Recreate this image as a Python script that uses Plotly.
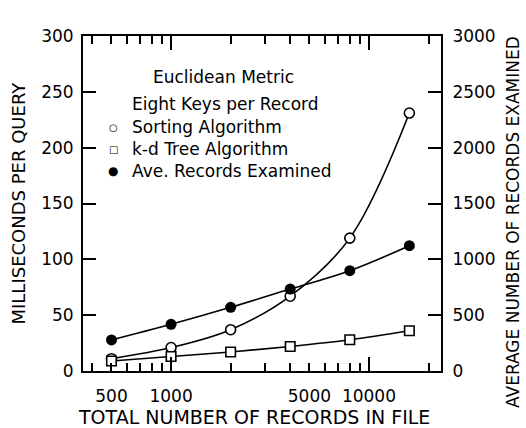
import plotly.graph_objects as go

# ---- data ----
records_in_file = [500, 1000, 2000, 4000, 8000, 16000]
sorting_ms = [11, 21, 37, 67, 119, 231]
kd_tree_ms = [9, 13, 17, 22, 28, 36]
ave_records = [278, 418, 570, 734, 898, 1122]

x_tick_vals = [500, 1000, 5000, 10000]
x_tick_text = ["500", "1000", "5000", "10000"]
x_short_ticks = [400, 500, 600, 700, 800, 900, 2000, 3000, 4000, 5000,
                 6000, 7000, 8000, 9000, 20000]
x_long_ticks = [1000, 10000]
y_left_ticks = [0, 50, 100, 150, 200, 250, 300]
y_right_ticks = [0, 500, 1000, 1500, 2000, 2500, 3000]

FONT = "DejaVu Sans"
W, H = 526, 428
ML, MR, MT, MB = 83, 85, 36, 57
PW, PH = W - ML - MR, H - MT - MB


def px(xp):
    return (xp - ML) / PW


def py(yp):
    return (H - MB - yp) / PH


fig = go.Figure()
line = dict(color="black", width=1.6, shape="spline")
fig.add_trace(go.Scatter(x=records_in_file, y=sorting_ms, mode="lines+markers",
                         line=line,
                         marker=dict(symbol="circle", size=10, color="white",
                                     line=dict(color="black", width=1.6)),
                         showlegend=False))
fig.add_trace(go.Scatter(x=records_in_file, y=kd_tree_ms, mode="lines+markers",
                         line=line,
                         marker=dict(symbol="square", size=9.5, color="white",
                                     line=dict(color="black", width=1.6)),
                         showlegend=False))
fig.add_trace(go.Scatter(x=records_in_file, y=ave_records, mode="lines+markers",
                         line=line, yaxis="y2",
                         marker=dict(symbol="circle", size=11, color="black"),
                         showlegend=False))
# empty helper traces so the tick-only overlay axes get drawn
for ax in ["x2", "x3", "x4", "x5"]:
    fig.add_trace(go.Scatter(x=[None], y=[None], xaxis=ax, yaxis="y",
                             mode="markers", showlegend=False,
                             hoverinfo="skip"))

xr = [2.555, 4.364]
common_x = dict(type="log", range=xr, showgrid=False, zeroline=False)
tick_x = dict(common_x, overlaying="x", anchor="y", showticklabels=False,
              showline=False, ticks="inside", tickwidth=1.5, tickcolor="black",
              tickmode="array")

fig.update_layout(
    width=W, height=H,
    margin=dict(l=ML, r=MR, t=MT, b=MB),
    paper_bgcolor="white", plot_bgcolor="white",
    font=dict(family=FONT, color="black", size=17),
    xaxis=dict(common_x, tickmode="array", tickvals=x_tick_vals,
               ticktext=x_tick_text, ticks="", showline=True, linewidth=2,
               linecolor="black", mirror=True, tickfont=dict(size=17),
               ticklabelstandoff=9),
    xaxis2=dict(tick_x, side="bottom", tickvals=x_short_ticks, ticklen=8),
    xaxis3=dict(tick_x, side="bottom", tickvals=x_long_ticks, ticklen=14),
    xaxis4=dict(tick_x, side="top", tickvals=x_short_ticks, ticklen=8),
    xaxis5=dict(tick_x, side="top", tickvals=x_long_ticks, ticklen=14),
    yaxis=dict(range=[0, 300], tickmode="array", tickvals=y_left_ticks,
               ticks="inside", ticklen=13, tickwidth=1.5, tickcolor="black",
               showline=True, linewidth=2, linecolor="black", mirror=True,
               showgrid=False, zeroline=False, tickfont=dict(size=17),
               ticklabelstandoff=4),
    yaxis2=dict(range=[0, 3000], overlaying="y", side="right", anchor="x",
                tickmode="array", tickvals=y_right_ticks, ticks="inside",
                ticklen=13, tickwidth=1.5, tickcolor="black", showline=True,
                linewidth=2, linecolor="black", showgrid=False, zeroline=False,
                tickfont=dict(size=17), ticklabelstandoff=6),
)

ann = []
# axis titles
ann.append(dict(text="TOTAL NUMBER OF RECORDS IN FILE", x=px(254), y=py(416.7),
                xanchor="center", yanchor="middle", font=dict(size=19)))
ann.append(dict(text="MILLISECONDS PER QUERY", x=px(18), y=py(203.5),
                textangle=-90, xanchor="center", yanchor="middle",
                font=dict(size=18)))
ann.append(dict(text="AVERAGE NUMBER OF RECORDS EXAMINED", x=px(513), y=py(222),
                textangle=-90, xanchor="center", yanchor="middle",
                font=dict(size=17)))
# legend block
ann.append(dict(text="Euclidean Metric", x=px(223), y=py(77),
                xanchor="center", yanchor="middle", font=dict(size=17)))
ann.append(dict(text="Eight Keys per Record", x=px(130), y=py(104),
                xanchor="left", yanchor="middle", font=dict(size=17)))
items = [("○", "Sorting Algorithm", 127, 10),
         ("□", "k-d Tree Algorithm", 149, 10),
         ("●", "Ave. Records Examined", 171, 12)]
for glyph, label, ypix, gs in items:
    ann.append(dict(text=glyph, x=px(113), y=py(ypix), xanchor="center",
                    yanchor="middle", font=dict(size=gs)))
    ann.append(dict(text=label, x=px(130), y=py(ypix), xanchor="left",
                    yanchor="middle", font=dict(size=17)))
for a in ann:
    a.update(xref="paper", yref="paper", showarrow=False)
fig.update_layout(annotations=ann)

fig.write_html("out.html")
